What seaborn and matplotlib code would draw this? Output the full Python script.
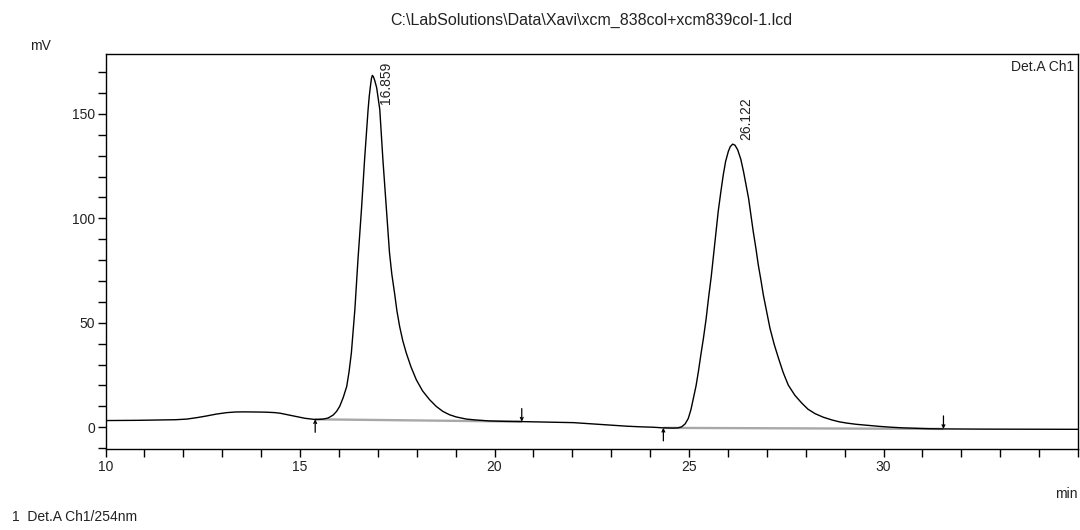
import matplotlib
matplotlib.use("Agg")
import matplotlib.pyplot as plt
import numpy as np
import pandas as pd
import seaborn as sns
from matplotlib.ticker import MultipleLocator

# Detector trace (retention time in min, signal in mV)
time_min = [
    10.00, 10.80, 11.40, 11.80, 12.09, 12.35, 12.60, 12.85, 13.12, 13.35,
    13.54, 13.85, 14.14, 14.35, 14.49, 14.70, 14.92, 15.12, 15.34, 15.45,
    15.60, 15.72, 15.85, 15.94, 16.02, 16.11, 16.20, 16.26, 16.32, 16.41,
    16.49, 16.58, 16.66, 16.75, 16.78, 16.81, 16.835, 16.859, 16.885, 16.92,
    16.97, 17.05, 17.13, 17.22, 17.30, 17.36, 17.43, 17.49, 17.56, 17.64,
    17.73, 17.85, 17.99, 18.15, 18.33, 18.50, 18.67, 18.84, 19.02, 19.28,
    19.50, 19.88, 20.30, 20.70, 21.43, 22.03, 22.35, 22.71, 23.05, 23.40,
    23.75, 24.08, 24.34, 24.60, 24.72, 24.81, 24.90, 24.98, 25.05, 25.11,
    25.18, 25.24, 25.30, 25.37, 25.44, 25.50, 25.57, 25.63, 25.69, 25.75,
    25.82, 25.88, 25.94, 26.01, 26.06, 26.122, 26.18, 26.25, 26.33, 26.40,
    26.46, 26.53, 26.59, 26.65, 26.72, 26.78, 26.85, 26.91, 27.00, 27.08,
    27.19, 27.30, 27.42, 27.55, 27.72, 27.90, 28.06, 28.24, 28.45, 28.67,
    28.86, 29.05, 29.30, 29.60, 29.90, 30.20, 30.50, 30.80, 31.15, 31.54,
    32.50, 35.00,
]
signal_mv = [
    3.2, 3.3, 3.5, 3.6, 3.9, 4.6, 5.4, 6.3, 7.0, 7.3,
    7.35, 7.3, 7.2, 7.0, 6.7, 5.9, 5.1, 4.3, 3.8, 3.7,
    3.9, 4.4, 5.8, 7.6, 10.0, 14.2, 19.5, 26.5, 35.6, 56.4,
    80.4, 104.4, 128.2, 152.1, 158.5, 163.3, 166.8, 168.4, 167.8, 166.0,
    162.5, 152.1, 128.2, 104.4, 83.5, 73.2, 64.2, 55.8, 48.3, 41.5,
    35.6, 29.0, 22.7, 17.4, 13.2, 10.0, 7.6, 6.0, 4.9, 3.9,
    3.5, 3.0, 2.8, 2.7, 2.4, 2.2, 1.8, 1.3, 0.9, 0.5,
    0.2, 0.0, -0.3, -0.4, -0.3, 0.2, 1.6, 4.2, 8.5, 13.8,
    19.8, 26.6, 34.2, 42.6, 52.0, 61.7, 72.0, 82.5, 93.0, 103.3,
    113.0, 120.8, 127.2, 132.0, 134.3, 135.5, 135.0, 132.8, 128.3, 122.4,
    116.5, 109.6, 101.8, 93.7, 85.5, 77.7, 70.2, 63.3, 54.8, 47.4,
    39.6, 33.0, 26.2, 20.2, 15.3, 11.5, 8.6, 6.5, 4.8, 3.5,
    2.6, 2.0, 1.4, 0.9, 0.4, 0.0, -0.3, -0.5, -0.7, -0.8,
    -0.9, -1.0,
]

# Integrated peaks
peak_rt = [16.859, 26.122]
peak_height = [168.4, 135.5]
peak_labels = ["16.859", "26.122"]
peak_start_min = [15.39, 24.34]
peak_start_mv = [3.8, -0.3]
peak_end_min = [20.70, 31.54]
peak_end_mv = [2.7, -0.8]

x_ticks = [10, 15, 20, 25, 30]
y_ticks = [0, 50, 100, 150]

file_title = r"C:\LabSolutions\Data\Xavi\xcm_838col+xcm839col-1.lcd"
channel = "Det.A Ch1"
channel_legend = "1  Det.A Ch1/254nm"

sns.set_theme(style="ticks")
plt.rcParams["font.family"] = ["Liberation Sans", "DejaVu Sans"]
ink = "#222222"

fig = plt.figure(figsize=(10.8, 5.3), dpi=100)
ax = fig.add_axes([0.0977, 0.1523, 0.9005, 0.7453])

# integration baselines under the trace
for s, e, ys, ye in zip(peak_start_min, peak_end_min, peak_start_mv, peak_end_mv):
    ax.plot([s, e], [ys, ye], color="#a8a8a8", lw=1.7, solid_capstyle="butt", zorder=2)

trace = pd.DataFrame({"time": time_min, "signal": signal_mv})
sns.lineplot(data=trace, x="time", y="signal", ax=ax, color="black", lw=1.0,
             estimator=None, sort=False, zorder=3)

# start / end markers
arrow_kw = dict(arrowstyle="->", color="black", lw=0.9, shrinkA=0, shrinkB=0,
                mutation_scale=5)
for s, ys in zip(peak_start_min, peak_start_mv):
    ax.annotate("", xy=(s, ys), xytext=(0, -13), textcoords="offset pixels",
                arrowprops=arrow_kw, zorder=4)
for e, ye in zip(peak_end_min, peak_end_mv):
    ax.annotate("", xy=(e, ye), xytext=(0, 13), textcoords="offset pixels",
                arrowprops=arrow_kw, zorder=4)

# retention time labels
for rt, h, lab in zip(peak_rt, peak_height, peak_labels):
    ax.text(rt + 0.36, min(h + 2.0, 154.5), lab, rotation=90, ha="center",
            va="bottom", fontsize=10, color=ink)

ax.set_xlim(10, 35)
ax.set_ylim(-10.55, 178.5)
ax.set_xticks(x_ticks)
ax.set_yticks(y_ticks)
ax.xaxis.set_minor_locator(MultipleLocator(1))
ax.yaxis.set_minor_locator(MultipleLocator(10))
ax.tick_params(which="both", direction="out", length=5.5, width=1.0,
               color="black", labelsize=10, labelcolor=ink, pad=2,
               top=False, right=False)
ax.set_xlabel("")
ax.set_ylabel("")
for sp in ax.spines.values():
    sp.set_visible(True)
    sp.set_linewidth(1.0)
    sp.set_color("black")

ax.text(0.996, 0.985, channel, transform=ax.transAxes, ha="right", va="top",
        fontsize=10, color=ink)
fig.text(0.5476, 0.962, file_title, ha="center", va="center", fontsize=11.5,
         color=ink)
fig.text(0.028, 0.913, "mV", ha="left", va="center", fontsize=10, color=ink)
fig.text(0.998, 0.068, "min", ha="right", va="center", fontsize=10, color=ink)
fig.text(0.011, 0.025, channel_legend, ha="left", va="center", fontsize=10,
         color=ink)

fig.savefig("out.png", dpi=100, facecolor="white")
